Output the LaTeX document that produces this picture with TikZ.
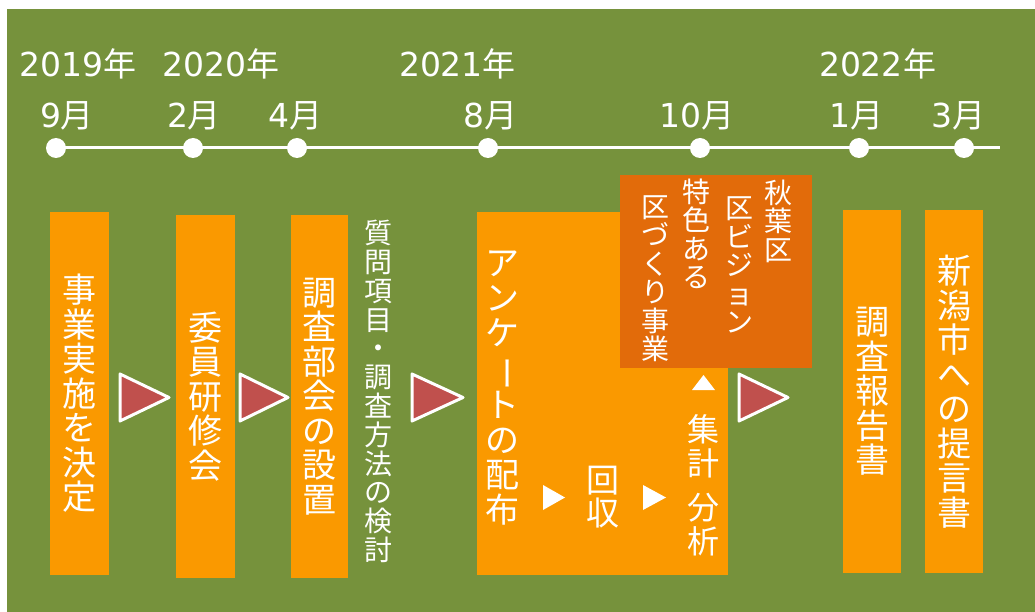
\documentclass[tikz,border=0pt]{standalone}
\usepackage{fontspec}
\setmainfont{Noto Sans CJK JP}
\newfontfamily\vdigits{DejaVu Sans}
\usepackage{graphicx}
\definecolor{bggreen}{RGB}{118,146,60}
\definecolor{boxorange}{RGB}{250,153,0}
\definecolor{darkorange}{RGB}{226,107,10}
\definecolor{arrowred}{RGB}{192,80,77}
\newcommand{\chouon}{\rotatebox[origin=c]{-90}{ー}}
\newcommand{\dg}[1]{{\vdigits #1}}
\tikzset{
  lbl/.style={text=white, inner sep=0pt, anchor=base, font=\fontsize{33}{36}\selectfont},
  tdot/.style={circle, fill=white, minimum size=20pt, inner sep=0pt},
  tline/.style={draw=white, line width=3pt},
  obox/.style={fill=boxorange, inner sep=0pt, text=white, align=center,
               font=\fontsize{34}{34.5}\selectfont},
  dbox/.style={fill=darkorange, inner sep=0pt},
  vtxt/.style={text=white, inner sep=0pt, align=center},
  redtri/.style={fill=arrowred, draw=white, line width=3pt, line join=round},
  wtri/.style={fill=white}
}
\begin{document}
\begin{tikzpicture}[x=1pt,y=-1pt]
\useasboundingbox (0,0) rectangle (1035,612);
\fill[white] (0,0) rectangle (1035,612);
\fill[bggreen] (7,9) rectangle (1035,612);

% timeline
\coordinate (tend) at (1000,148);
\node[tdot] (t1) at (56,148) {};
\node[tdot] (t2) at (193,148) {};
\node[tdot] (t3) at (297,148) {};
\node[tdot] (t4) at (488,148) {};
\node[tdot] (t5) at (700,148) {};
\node[tdot] (t6) at (859,148) {};
\node[tdot] (t7) at (964,148) {};
\draw[tline] (t1.center) -- (tend);

% year labels
\node[lbl] (y1) at (78,77) {\dg{2019}年};
\node[lbl] (y2) at (221,77) {\dg{2020}年};
\node[lbl] (y3) at (457.5,77) {\dg{2021}年};
\node[lbl] (y4) at (877.5,77) {\dg{2022}年};
% month labels
\node[lbl] (m1) at (67,128) {\dg{9}月};
\node[lbl] (m2) at (194,128) {\dg{2}月};
\node[lbl] (m3) at (295,128) {\dg{4}月};
\node[lbl] (m4) at (490,128) {\dg{8}月};
\node[lbl] (m5) at (697,128) {\dg{10}月};
\node[lbl] (m6) at (856,128) {\dg{1}月};
\node[lbl] (m7) at (958,128) {\dg{3}月};

% boxes
\node[obox, minimum width=59pt, minimum height=363pt] (b1) at (79.5,393.5) {事\\業\\実\\施\\を\\決\\定};
\node[obox, minimum width=59pt, minimum height=363pt] (b2) at (205.5,396.5) {委\\員\\研\\修\\会};
\node[obox, minimum width=57pt, minimum height=363pt] (b3) at (319.5,396.5) {調\\査\\部\\会\\の\\設\\置};
\node[vtxt, font=\fontsize{28}{28.8}\selectfont] (q) at (378,391.5) {質\\問\\項\\目\\・\\調\\査\\方\\法\\の\\検\\討};

% questionnaire box
\node[obox, anchor=north west, minimum width=251pt, minimum height=363pt] (ank) at (477,212) {};
\node[dbox, anchor=north west, minimum width=192pt, minimum height=193pt] (aki) at (620,175) {};
\node[vtxt, font=\fontsize{34}{35}\selectfont] (ankt) at (502,388.5) {ア\\ン\\ケ\\\chouon\\ト\\の\\配\\布};
\node[vtxt, font=\fontsize{33}{33}\selectfont] (kai) at (603,497.5) {回\\収};
\node[vtxt, font=\fontsize{32}{34}\selectfont] (shu) at (703,485) {集\\計\\[10pt]分\\析};

% dark box text
\node[vtxt, font=\fontsize{28}{28.5}\selectfont] (c1) at (778,221) {秋\\葉\\区};
\node[vtxt, font=\fontsize{28}{28.5}\selectfont] (c2) at (739,265) {区\\ビ\\ジ\\ョ\\ン};
\node[vtxt, font=\fontsize{28}{28.5}\selectfont] (c3) at (696,234) {特\\色\\あ\\る};
\node[vtxt, font=\fontsize{28}{28.5}\selectfont] (c4) at (655,278.5) {区\\づ\\く\\り\\事\\業};

% final boxes
\node[obox, minimum width=58pt, minimum height=363pt] (b4) at (872,391.5) {調\\査\\報\\告\\書};
\node[obox, minimum width=58pt, minimum height=363pt] (b5) at (954,391.5) {新\\潟\\市\\へ\\の\\提\\言\\書};

% red arrows
\draw[redtri] (120,374) -- (120,421) -- (169,397.5) -- cycle;
\draw[redtri] (240,374) -- (240,421) -- (288,397.5) -- cycle;
\draw[redtri] (412,374) -- (412,421) -- (463,397.5) -- cycle;
\draw[redtri] (739,374) -- (739,421) -- (788,397.5) -- cycle;

% small white triangles
\fill[wtri] (543,485) -- (543,510) -- (565,497.5) -- cycle;
\fill[wtri] (643,485) -- (643,510) -- (666,497.5) -- cycle;
\fill[wtri] (692,390) -- (715,390) -- (703.5,375) -- cycle;
\end{tikzpicture}
\end{document}
